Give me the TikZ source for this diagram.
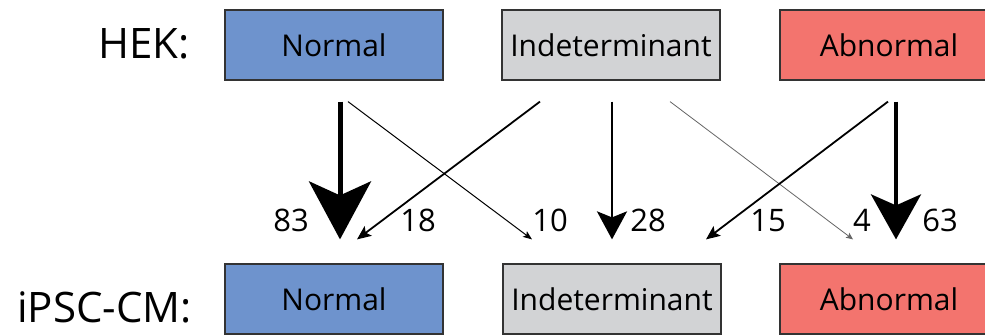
\documentclass[tikz,border=0pt]{standalone}
\usepackage{fontspec}
\setmainfont{Open Sans}
\usetikzlibrary{arrows.meta}
\definecolor{nblue}{HTML}{6E93CD}
\definecolor{igray}{HTML}{D2D3D5}
\definecolor{ared}{HTML}{F3746E}
\tikzset{
  box/.style={draw=black!80, line width=1.2pt, minimum width=218pt, minimum height=70pt, inner sep=0pt, font=\fontsize{30}{30}\selectfont},
  rowlab/.style={inner sep=0pt, font=\fontsize{42}{42}\selectfont},
  num/.style={inner sep=0pt, anchor=base, font=\fontsize{31}{31}\selectfont},
  flow/.style={draw=black}
}
\begin{document}
\begin{tikzpicture}[x=1pt,y=-1pt]
\useasboundingbox (0,0) rectangle (985,336);
\fill[white] (0,0) rectangle (985,336);
% boxes
\node[box, fill=nblue] (hN) at (334,45) {Normal};
\node[box, fill=igray] (hI) at (611,45) {Indeterminant};
\node[box, fill=ared] (hA) at (889,45) {Abnormal};
\node[box, fill=nblue] (bN) at (334,299) {Normal};
\node[box, fill=igray] (bI) at (612,299) {Indeterminant};
\node[box, fill=ared] (bA) at (889,299) {Abnormal};
% row labels
\node[rowlab, anchor=base east] (hek) at (190,59) {HEK:};
\node[rowlab, anchor=base east] (ipsc) at (192,323) {iPSC-CM:};
% arrows
\draw[flow, line width=5pt, -{Stealth[length=58pt,width=62pt,inset=14pt]}]
  ([shift={(6,21)}]hN.south) -- ([shift={(6,-24)}]bN.north);
\draw[flow, line width=2.5pt, -{Stealth[length=28pt,width=30pt,inset=6pt]}]
  ([shift={(1,21)}]hI.south) -- ([shift={(0,-24)}]bI.north);
\draw[flow, line width=4pt, -{Stealth[length=45pt,width=50pt,inset=11pt]}]
  ([shift={(7,21)}]hA.south) -- ([shift={(7,-24)}]bA.north);
\draw[flow, line width=1pt, -{Stealth[length=9pt,width=7pt,inset=2pt]}]
  ([shift={(14,21)}]hN.south) -- ([shift={(-80,-24)}]bI.north);
\draw[flow, line width=1.8pt, -{Stealth[length=14pt,width=12pt,inset=3pt]}]
  ([shift={(-71,21)}]hI.south) -- ([shift={(23,-24)}]bN.north);
\draw[flow, draw=black!60, line width=0.8pt, -{Stealth[length=7pt,width=6pt,inset=1.5pt]}]
  ([shift={(59,21)}]hI.south) -- ([shift={(-36,-24)}]bA.north);
\draw[flow, line width=1.8pt, -{Stealth[length=14pt,width=12pt,inset=3pt]}]
  ([shift={(-1,21)}]hA.south) -- ([shift={(94,-24)}]bI.north);
% numbers
\node[num] (n83) at (291,232) {83};
\node[num] (n18) at (418,232) {18};
\node[num] (n10) at (550,232) {10};
\node[num] (n28) at (648,232) {28};
\node[num] (n15) at (768,232) {15};
\node[num] (n4) at (862,232) {4};
\node[num] (n63) at (940,232) {63};
\end{tikzpicture}
\end{document}
